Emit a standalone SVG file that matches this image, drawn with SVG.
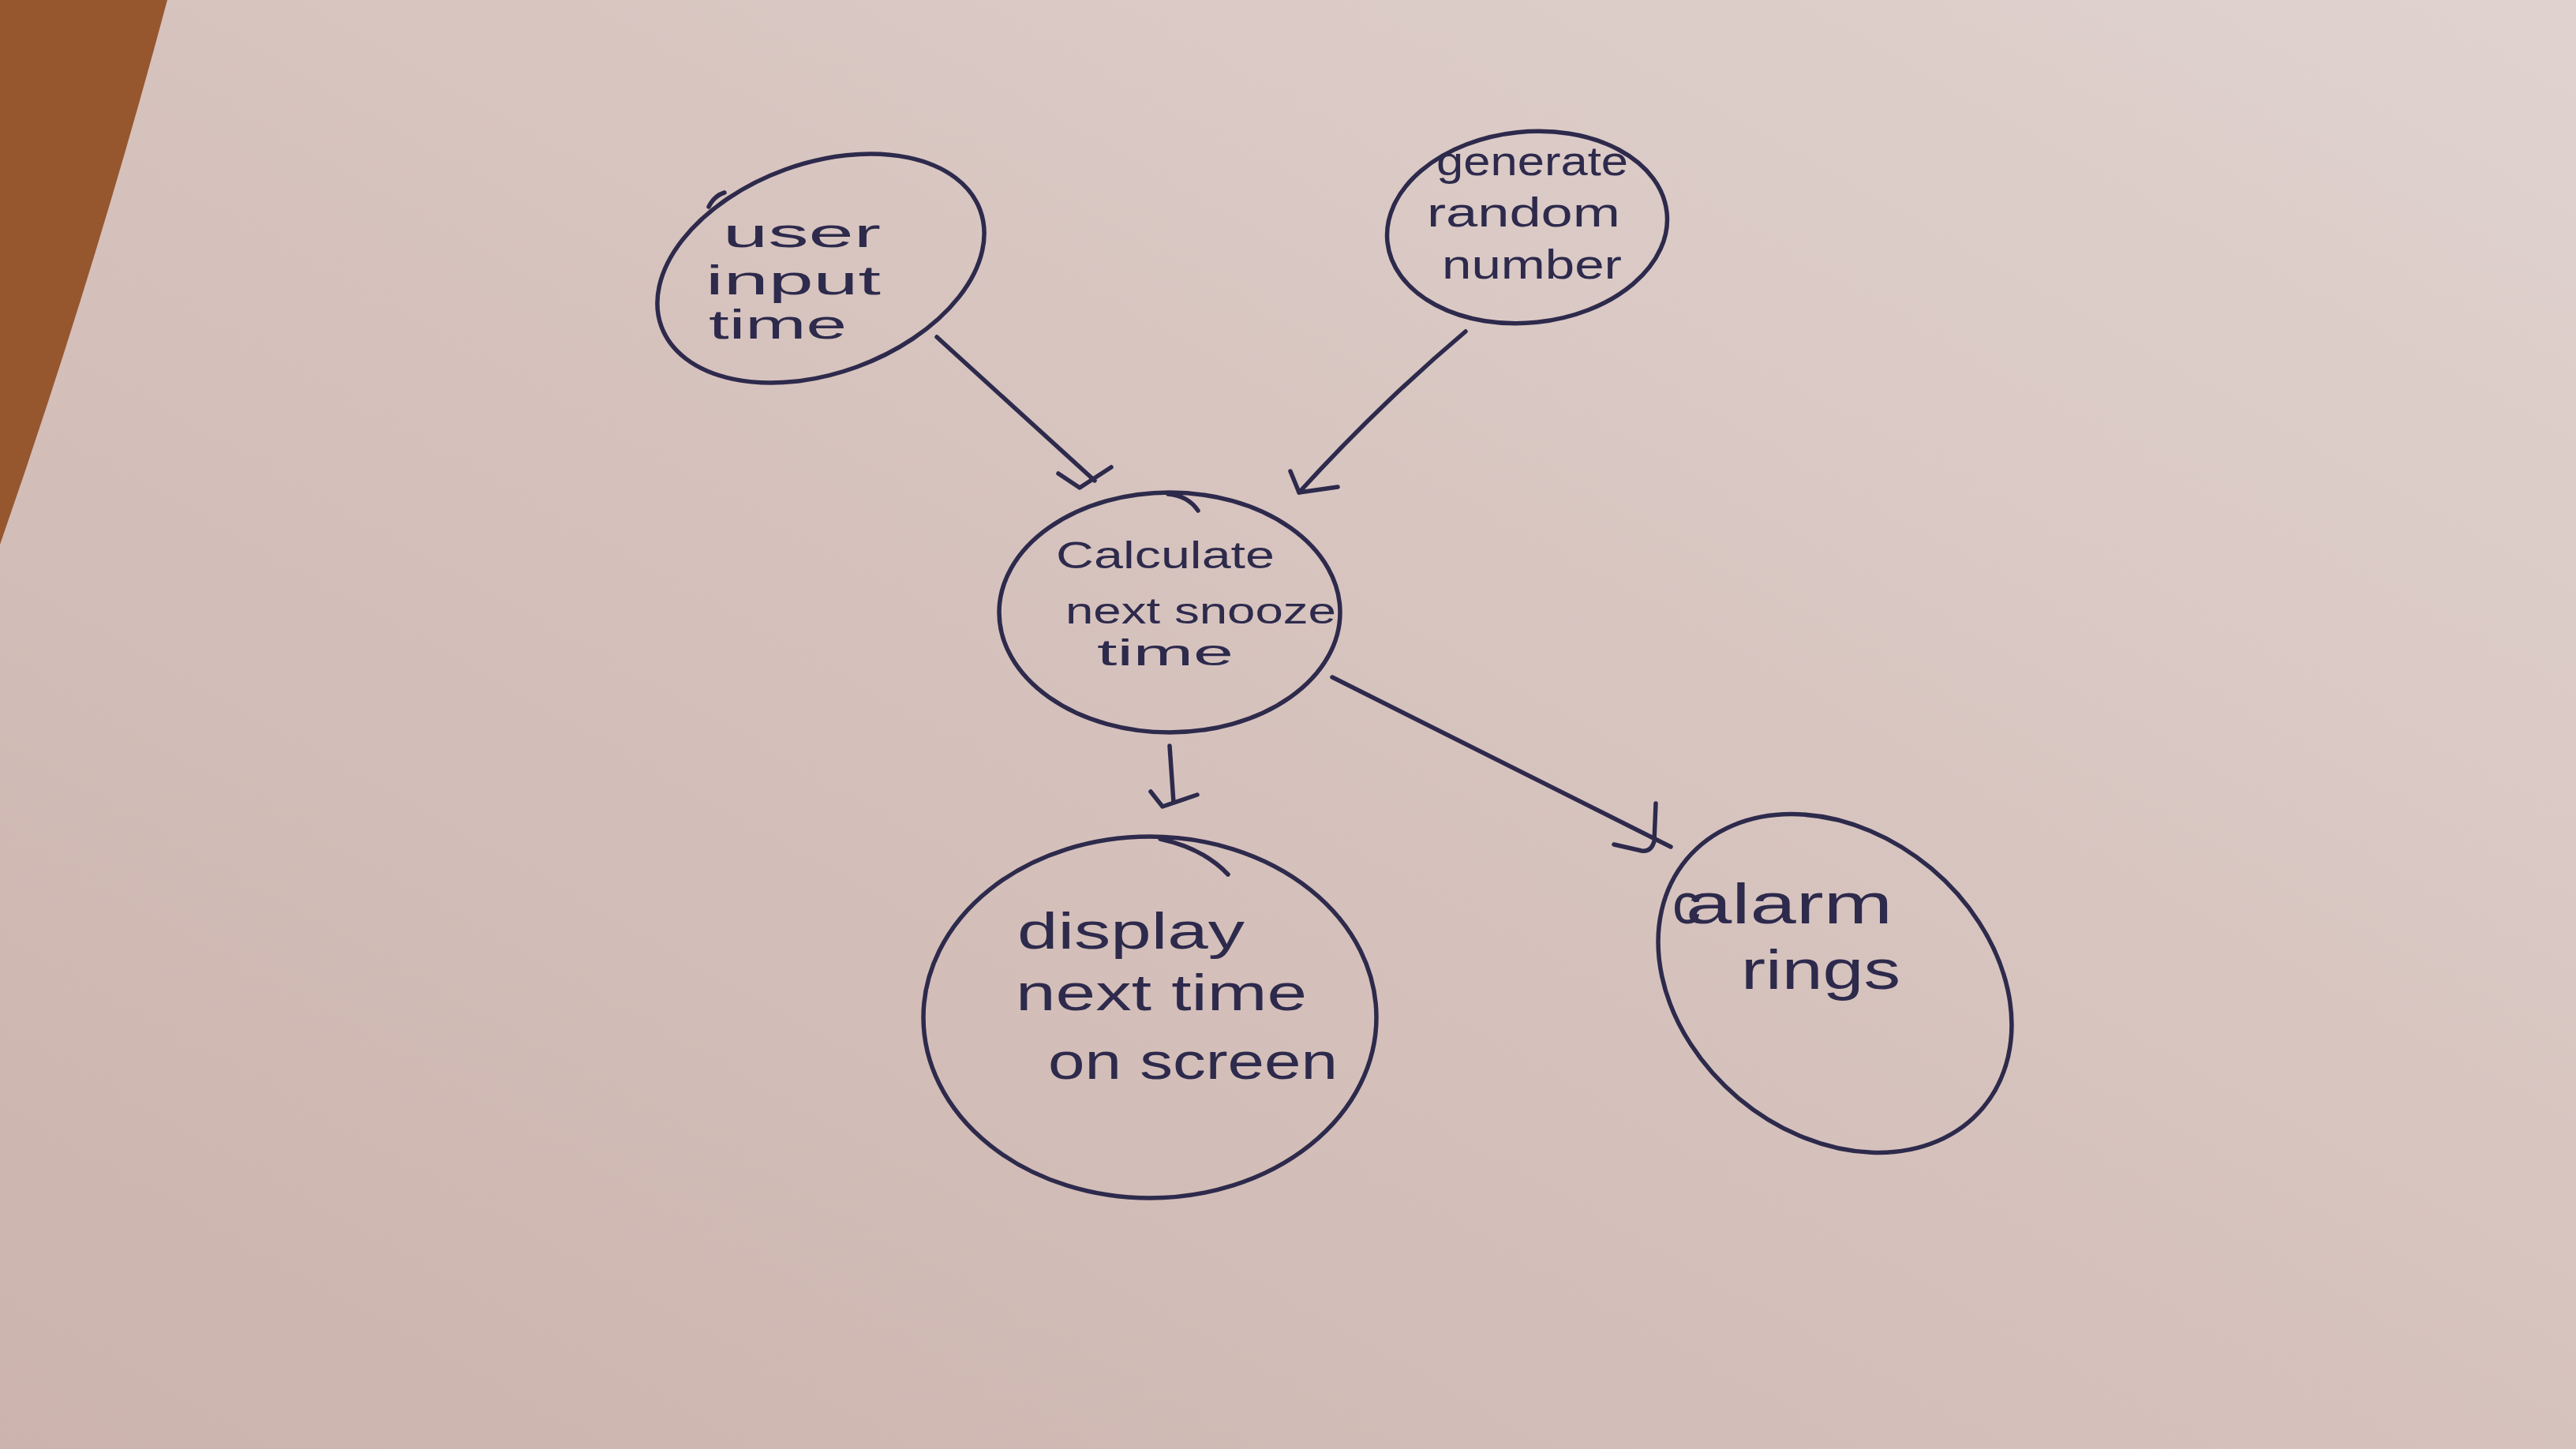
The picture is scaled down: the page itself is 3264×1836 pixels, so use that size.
<svg xmlns="http://www.w3.org/2000/svg" width="3264" height="1836" viewBox="0 0 3264 1836">
  <defs>
    <linearGradient id="paper" x1="0" y1="1" x2="1" y2="0">
      <stop offset="0" stop-color="#ccb3ad"/>
      <stop offset="0.5" stop-color="#d6c2bd"/>
      <stop offset="1" stop-color="#e0d3cf"/>
    </linearGradient>
    <style>
      .ink { fill: none; stroke: #2d2a4c; stroke-width: 5.5; stroke-linecap: round; stroke-linejoin: round; }
      .lbl { fill: #2d2a4c; font-family: "Liberation Sans", "DejaVu Sans", sans-serif; }
    </style>
  </defs>

  <!-- paper and table -->
  <rect x="0" y="0" width="3264" height="1836" fill="url(#paper)"/>
  <path d="M0,0 L212,0 Q120,345 0,690 Z" fill="#96572f"/>

  <g id="connectors">
    <g id="edge-user-calc">
      <path class="ink" d="M1187,427 L1387,609"/>
      <path class="ink" d="M1341,600 L1368,618 L1408,592"/>
    </g>
    <g id="edge-random-calc">
      <path class="ink" d="M1857,420 Q1748,512 1646,624"/>
      <path class="ink" d="M1635,597 L1646,624 L1695,617"/>
    </g>
    <g id="edge-calc-display">
      <path class="ink" d="M1482,945 L1487,1017"/>
      <path class="ink" d="M1458,1003 L1473,1022 L1517,1007"/>
    </g>
    <g id="edge-calc-alarm">
      <path class="ink" d="M1688,858 L2117,1073"/>
      <path class="ink" d="M2098,1018 L2096,1066 Q2092,1080 2080,1078 L2045,1070"/>
    </g>
  </g>

  <g id="node-user-input-time">
    <ellipse class="ink" cx="1040" cy="340" rx="215" ry="133" transform="rotate(-20 1040 340)"/>
    <path class="ink" d="M898,262 Q905,248 918,244"/>
    <text class="lbl" x="916" y="313" font-size="52" textLength="200" lengthAdjust="spacingAndGlyphs">user</text>
    <text class="lbl" x="894" y="373" font-size="52" textLength="222" lengthAdjust="spacingAndGlyphs">input</text>
    <text class="lbl" x="898" y="429" font-size="52" textLength="175" lengthAdjust="spacingAndGlyphs">time</text>
  </g>

  <g id="node-generate-random-number">
    <ellipse class="ink" cx="1935" cy="288" rx="178" ry="121" transform="rotate(-6 1935 288)"/>
    <text class="lbl" x="1820" y="222" font-size="52" textLength="243" lengthAdjust="spacingAndGlyphs">generate</text>
    <text class="lbl" x="1808" y="287" font-size="52" textLength="245" lengthAdjust="spacingAndGlyphs">random</text>
    <text class="lbl" x="1827" y="353" font-size="52" textLength="228" lengthAdjust="spacingAndGlyphs">number</text>
  </g>

  <g id="node-calculate">
    <ellipse class="ink" cx="1482" cy="776" rx="216" ry="152"/>
    <path class="ink" d="M1480,626 Q1505,628 1518,647"/>
    <text class="lbl" x="1338" y="720" font-size="48" textLength="277" lengthAdjust="spacingAndGlyphs">Calculate</text>
    <text class="lbl" x="1350" y="790" font-size="46" textLength="343" lengthAdjust="spacingAndGlyphs">next snooze</text>
    <text class="lbl" x="1390" y="843" font-size="46" textLength="173" lengthAdjust="spacingAndGlyphs">time</text>
  </g>

  <g id="node-display">
    <ellipse class="ink" cx="1457" cy="1289" rx="287" ry="229"/>
    <path class="ink" d="M1470,1063 Q1525,1075 1556,1108"/>
    <text class="lbl" x="1289" y="1202" font-size="64" textLength="288" lengthAdjust="spacingAndGlyphs">display</text>
    <text class="lbl" x="1287" y="1280" font-size="64" textLength="369" lengthAdjust="spacingAndGlyphs">next time</text>
    <text class="lbl" x="1328" y="1367" font-size="64" textLength="367" lengthAdjust="spacingAndGlyphs">on screen</text>
  </g>

  <g id="node-alarm-rings">
    <ellipse class="ink" cx="2325" cy="1246" rx="245" ry="190" transform="rotate(40 2325 1246)"/>
    <text class="lbl" x="2119" y="1170" font-size="72">c</text>
    <text class="lbl" x="2136" y="1170" font-size="72" textLength="262" lengthAdjust="spacingAndGlyphs">alarm</text>
    <text class="lbl" x="2206" y="1253" font-size="70" textLength="202" lengthAdjust="spacingAndGlyphs">rings</text>
  </g>
</svg>
